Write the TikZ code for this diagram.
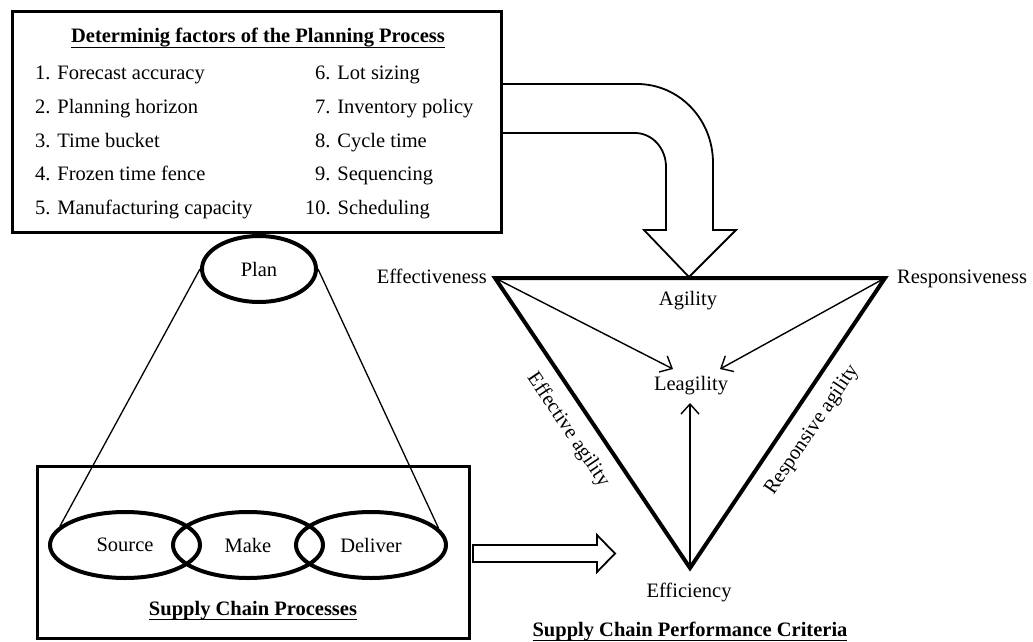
\documentclass[tikz,border=0pt]{standalone}
\usepackage{fontspec}
\setmainfont{Liberation Serif}
\usetikzlibrary{shapes.geometric,arrows.meta}
\newcommand{\myul}[1]{\setbox0\hbox{#1}\rlap{\rule[-5pt]{\wd0}{1.3pt}}\box0}
\begin{document}
\begin{tikzpicture}[x=1pt,y=-1pt,
  font=\fontsize{20.5}{24}\selectfont,
  txt/.style={inner sep=0pt},
  thickbox/.style={draw, line width=3pt, inner sep=0pt},
  oval/.style={draw, ellipse, line width=4pt, inner sep=0pt, minimum width=150pt, minimum height=66pt},
  thinline/.style={line width=1.3pt},
  hollow/.style={draw, line width=1.8pt, fill=white, line join=miter},
  tri/.style={line width=4pt, line join=miter},
  arr/.style={line width=1.4pt, -{Straight Barb[length=10pt,width=18pt]}}]
\useasboundingbox (0,0) rectangle (1033,642);

% bent block arrow (drawn before the box so the box border covers its open end)
\draw[hollow] (501,84) -- (637,84) .. controls (679,84) and (713,119) .. (713,163)
  -- (713,230) -- (736,230) -- (689,277) -- (644,230) -- (666,230) -- (666,167)
  .. controls (666,148) and (652,133) .. (635,133) -- (501,133);

% top box
\node[thickbox, minimum width=489pt, minimum height=220pt] (factors) at (256.5,122) {};
\node[txt, anchor=base] (title) at (258,43) {\bfseries\myul{Determinig factors of the Planning Process}};
\node[txt, anchor=base west] (f1) at (35,80) {1. Forecast accuracy};
\node[txt, anchor=base west] (f2) at (35,113.5) {2. Planning horizon};
\node[txt, anchor=base west] (f3) at (35,147) {3. Time bucket};
\node[txt, anchor=base west] (f4) at (35,180.5) {4. Frozen time fence};
\node[txt, anchor=base west] (f5) at (35,214) {5. Manufacturing capacity};
\node[txt, anchor=base west] (f6) at (315,80) {6. Lot sizing};
\node[txt, anchor=base west] (f7) at (315,113.5) {7. Inventory policy};
\node[txt, anchor=base west] (f8) at (315,147) {8. Cycle time};
\node[txt, anchor=base west] (f9) at (315,180.5) {9. Sequencing};
\node[txt, anchor=base west] (f10) at (305,214) {10. Scheduling};

% plan and processes
\node[oval, minimum width=114pt, minimum height=66pt] (plan) at (259,269) {Plan};
\node[thickbox, minimum width=432pt, minimum height=172pt] (procbox) at (253,552) {};
\node[oval] (src) at (125,545) {Source};
\node[oval] (make) at (248,545) {Make};
\node[oval] (del) at (371,545) {Deliver};
\draw[thinline] (plan.west) -- (src.164);
\draw[thinline] (plan.east) -- (del.14);
\node[txt, anchor=base] (proct) at (253,615) {\bfseries\myul{Supply Chain Processes}};

% right block arrow
\draw[hollow] (473,545) -- (597,545) -- (597,535) -- (615,553.5) -- (597,572) -- (597,562) -- (473,562) -- cycle;

% triangle
\coordinate (A) at (495,278);
\coordinate (B) at (885,278);
\coordinate (C) at (690,568);
\draw[tri] (A) -- (B) -- (C) -- cycle;
\coordinate (tl) at (673,369);
\coordinate (tr) at (720,369);
\coordinate (tb) at (690,403);
\draw[arr] (A) -- (tl);
\draw[arr] (B) -- (tr);
\draw[arr] (C) -- (tb);

\node[txt, anchor=base east] (leff) at (487,283) {Effectiveness};
\node[txt, anchor=base west] (lresp) at (897,283) {Responsiveness};
\node[txt, anchor=base] (lag) at (688,305) {Agility};
\node[txt, anchor=base] (lleag) at (691,390) {Leagility};
\node[txt, anchor=base] (lefi) at (689,597) {Efficiency};
\node[txt, rotate=-56] (lea) at (568,430) {Effective agility};
\node[txt, rotate=56] (lra) at (812,430) {Responsive agility};
\node[txt, anchor=base] (crit) at (690,636) {\bfseries\myul{Supply Chain Performance Criteria}};
\end{tikzpicture}
\end{document}
